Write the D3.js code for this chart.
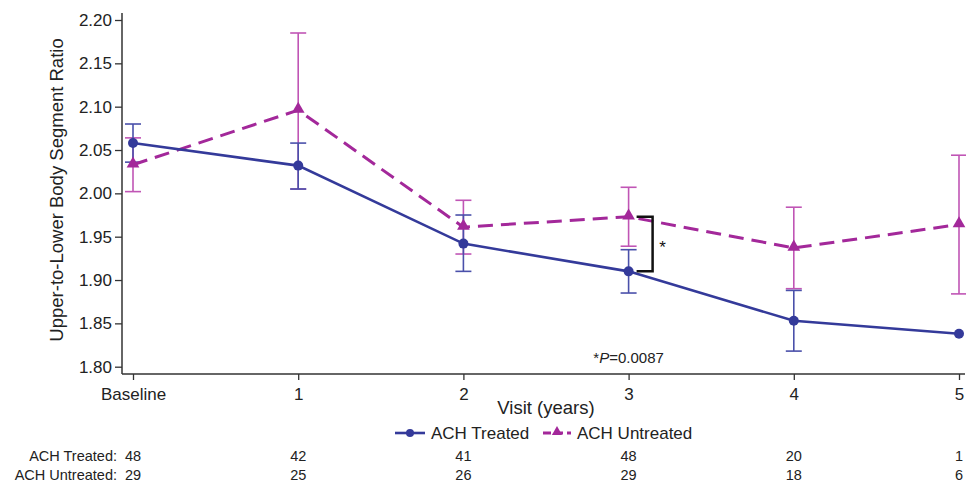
<!DOCTYPE html>
<html>
<head>
<meta charset="utf-8">
<script src="https://cdn.jsdelivr.net/npm/d3@7"></script>
<style>
  html, body { margin: 0; padding: 0; background: #fff; }
  svg { display: block; font-family: "Liberation Sans", Arial, sans-serif; }
</style>
</head>
<body>
<svg id="chart" width="966" height="484"></svg>
<script>
// Visit labels
const visits = ["Baseline", "1", "2", "3", "4", "5"];
// y-axis ticks
const yTicks = [1.80, 1.85, 1.90, 1.95, 2.00, 2.05, 2.10, 2.15, 2.20];

// ACH Treated: mean and error-bar limits (null = no bar)
const treatedMean  = [2.058, 2.032, 1.942, 1.910, 1.853, 1.838];
const treatedUpper = [2.080, 2.058, 1.975, 1.935, 1.888, null];
const treatedLower = [2.036, 2.005, 1.910, 1.885, 1.818, null];

// ACH Untreated: mean and error-bar limits
const untreatedMean  = [2.033, 2.096, 1.961, 1.973, 1.937, 1.964];
const untreatedUpper = [2.064, 2.185, 1.992, 2.007, 1.984, 2.044];
const untreatedLower = [2.002, 2.005, 1.930, 1.939, 1.890, 1.884];

// Numbers at risk
const nTreated   = [48, 42, 41, 48, 20, 1];
const nUntreated = [29, 25, 26, 29, 18, 6];

const colTreated = "#343a9a";
const colTreatedBar = "#4a50aa";
const colUntreated = "#a3289a";
const colUntreatedBar = "#c055b5";
const textCol = "#222";

const svg = d3.select("#chart");

const x = d3.scaleLinear().domain([0, visits.length - 1]).range([133, 959]);
const y = d3.scaleLinear().domain([1.80, 2.20]).range([366.7, 20]);

const axisX0 = 122, axisY0 = 374;

// Y axis
const yAxis = d3.axisLeft(y).tickValues(yTicks).tickFormat(d3.format(".2f")).tickSize(7).tickPadding(3);
const gy = svg.append("g").attr("transform", `translate(${axisX0},0)`).call(yAxis);
gy.select(".domain").remove();
gy.selectAll(".tick line").attr("stroke", "#333").attr("stroke-width", 1.3);
gy.selectAll(".tick text").attr("fill", textCol).style("font-size", "17px");
svg.append("line").attr("x1", axisX0).attr("x2", axisX0).attr("y1", 13).attr("y2", axisY0)
  .attr("stroke", "#333").attr("stroke-width", 1.5);

// X axis
const xAxis = d3.axisBottom(x).tickValues(d3.range(visits.length)).tickFormat(i => visits[i]).tickSize(6).tickPadding(8);
const gx = svg.append("g").attr("transform", `translate(0,${axisY0})`).call(xAxis);
gx.select(".domain").remove();
gx.selectAll(".tick line").attr("stroke", "#333").attr("stroke-width", 1.3);
gx.selectAll(".tick text").attr("fill", textCol).style("font-size", "17px");
svg.append("line").attr("x1", axisX0).attr("x2", 965).attr("y1", axisY0).attr("y2", axisY0)
  .attr("stroke", "#333").attr("stroke-width", 1.5);

// Axis titles
svg.append("text").attr("transform", `translate(63,190) rotate(-90)`)
  .attr("text-anchor", "middle").attr("fill", textCol).style("font-size", "18.5px")
  .text("Upper-to-Lower Body Segment Ratio");
svg.append("text").attr("x", 546).attr("y", 414).attr("text-anchor", "middle")
  .attr("fill", textCol).style("font-size", "18.5px").text("Visit (years)");

// Error bars
function errorBars(upper, lower, color) {
  const g = svg.append("g").attr("stroke", color).attr("stroke-width", 1.6).attr("fill", "none");
  upper.forEach((u, i) => {
    if (u == null) return;
    const cx = x(i), cw = 8;
    g.append("line").attr("x1", cx).attr("x2", cx).attr("y1", y(u)).attr("y2", y(lower[i]));
    g.append("line").attr("x1", cx - cw).attr("x2", cx + cw).attr("y1", y(u)).attr("y2", y(u));
    g.append("line").attr("x1", cx - cw).attr("x2", cx + cw).attr("y1", y(lower[i])).attr("y2", y(lower[i]));
  });
}
errorBars(untreatedUpper, untreatedLower, colUntreatedBar);
errorBars(treatedUpper, treatedLower, colTreatedBar);

const line = d3.line().x((d, i) => x(i)).y(d => y(d));

svg.append("path").datum(untreatedMean).attr("d", line).attr("fill", "none")
  .attr("stroke", colUntreated).attr("stroke-width", 3).attr("stroke-dasharray", "15,8");
svg.append("path").datum(treatedMean).attr("d", line).attr("fill", "none")
  .attr("stroke", colTreated).attr("stroke-width", 2.6);

const tri = d3.symbol().type(d3.symbolTriangle).size(70);
svg.append("g").selectAll("path").data(untreatedMean).join("path")
  .attr("d", tri).attr("transform", (d, i) => `translate(${x(i)},${y(d) - 1})`).attr("fill", colUntreated);
svg.append("g").selectAll("circle").data(treatedMean).join("circle")
  .attr("cx", (d, i) => x(i)).attr("cy", d => y(d)).attr("r", 5).attr("fill", colTreated);

// Significance bracket at year 3
const bx = x(3) + 8, bxr = x(3) + 24;
svg.append("path")
  .attr("d", `M${bx},${y(untreatedMean[3])}H${bxr}V${y(treatedMean[3])}H${bx}`)
  .attr("fill", "none").attr("stroke", "#111").attr("stroke-width", 2.5);
svg.append("text").attr("x", bxr + 10).attr("y", 253).attr("text-anchor", "middle")
  .attr("fill", "#111").style("font-size", "17px").text("*");

const pt = svg.append("text").attr("x", x(3)).attr("y", 363).attr("text-anchor", "middle")
  .attr("fill", textCol).style("font-size", "15px");
pt.append("tspan").text("*");
pt.append("tspan").attr("font-style", "italic").text("P");
pt.append("tspan").text("=0.0087");

// Legend
const lg = svg.append("g").attr("transform", "translate(0,433)");
lg.append("line").attr("x1", 395).attr("x2", 425).attr("y1", 0).attr("y2", 0)
  .attr("stroke", colTreated).attr("stroke-width", 2.6);
lg.append("circle").attr("cx", 410).attr("cy", 0).attr("r", 4).attr("fill", colTreated);
lg.append("text").attr("x", 431).attr("y", 6).attr("fill", textCol).style("font-size", "17px").text("ACH Treated");
lg.append("line").attr("x1", 543).attr("x2", 571).attr("y1", 0).attr("y2", 0)
  .attr("stroke", colUntreated).attr("stroke-width", 3).attr("stroke-dasharray", "8,4");
lg.append("path").attr("d", d3.symbol().type(d3.symbolTriangle).size(45)).attr("transform", "translate(557,-1)")
  .attr("fill", colUntreated);
lg.append("text").attr("x", 577).attr("y", 6).attr("fill", textCol).style("font-size", "17px").text("ACH Untreated");

// Numbers at risk
const rows = [["ACH Treated:", nTreated, 461], ["ACH Untreated:", nUntreated, 480]];
rows.forEach(([label, vals, yy]) => {
  svg.append("text").attr("x", 117).attr("y", yy).attr("text-anchor", "end")
    .attr("fill", textCol).style("font-size", "14.5px").text(label);
  svg.append("g").selectAll("text").data(vals).join("text")
    .attr("x", (d, i) => x(i)).attr("y", yy).attr("text-anchor", "middle")
    .attr("fill", textCol).style("font-size", "14.5px").text(d => d);
});
</script>
</body>
</html>
